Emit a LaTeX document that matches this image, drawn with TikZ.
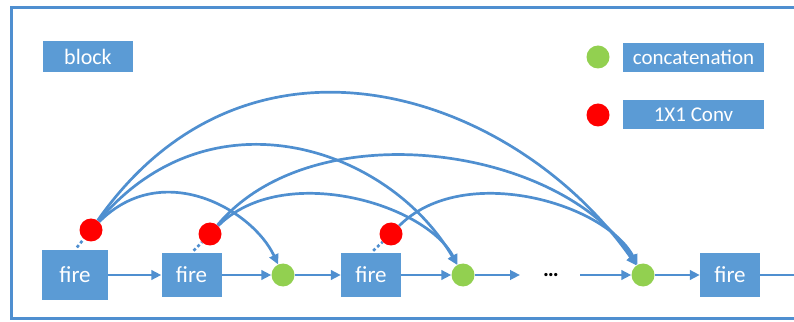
\documentclass[tikz,border=0pt]{standalone}
\usepackage{fontspec}
\setmainfont{Carlito}
\usetikzlibrary{arrows.meta}
\definecolor{boxblue}{RGB}{91,155,213}
\definecolor{lineblue}{RGB}{79,143,208}
\definecolor{catgreen}{RGB}{146,208,80}

\begin{document}
\begin{tikzpicture}[x=1pt,y=1pt,
  box/.style={fill=boxblue, text=white, inner sep=0pt, font=\fontsize{21}{24}\selectfont},
  fire/.style={box, minimum width=60pt, minimum height=44pt, font=\fontsize{23}{26}\selectfont},
  dot/.style={circle, inner sep=0pt, minimum size=23pt},
  wire/.style={lineblue, line width=2.7pt},
  link/.style={wire, -{Triangle[length=10pt,width=9.5pt]}},
  stub/.style={wire, dash pattern=on 3pt off 2.5pt, shorten <=3pt}]
\def\row{46}
\useasboundingbox (0,0) rectangle (794,321);
\draw[lineblue, line width=3pt] (11,3) rectangle (820,313);

\node[box, minimum width=90pt, minimum height=31pt, font=\fontsize{22}{24}\selectfont] (BLK) at (88,264.5) {block};
\node[dot, fill=catgreen] (LG) at (598,264) {};
\node[box, minimum width=141pt, minimum height=29pt] (LC) at (693.5,263.5) {concatenation};
\node[dot, fill=red] (LR) at (598,206) {};
\node[box, minimum width=141pt, minimum height=29pt] (LV) at (693.5,206.5) {1X1 Conv};

\node[fire, minimum width=66pt, minimum height=50pt] (F1) at (75,\row) {fire};
\node[fire] (F2) at (191.5,\row) {fire};
\node[fire] (F3) at (371,\row) {fire};
\node[fire] (F4) at (730,\row) {fire};

\node[dot, fill=catgreen] (G1) at (283,\row) {};
\node[dot, fill=catgreen] (G2) at (463,\row) {};
\node[dot, fill=catgreen] (G3) at (643,\row) {};

\node[dot, fill=red] (R1) at (91,91) {};
\node[dot, fill=red] (R2) at (210,87) {};
\node[dot, fill=red] (R3) at (391,87) {};

\node (DOTS) at (551,\row) {\fontsize{22}{24}\selectfont\bfseries\dots};
\coordinate (A) at (520,\row);
\coordinate (B) at (580,\row);
\coordinate (E) at (800,\row);

\draw[link] (F1) -- (F2);
\draw[link] (F2) -- (G1);
\draw[link] (G1) -- (F3);
\draw[link] (F3) -- (G2);
\draw[link] (G2) -- (A);
\draw[link] (B) -- (G3);
\draw[link] (G3) -- (F4);
\draw[wire] (F4) -- (E);

\draw[stub] (F1.north) -- (R1);
\draw[stub] (F2.north) -- (R2);
\draw[stub] (F3.north) -- (R3);

\draw[link] (R1) to[out=45, in=115, out distance=90pt, in distance=60pt] (G1);
\draw[link] (R1) to[out=50, in=120, out distance=175pt, in distance=135pt] (G2);
\draw[link] (R1) to[out=55, in=125, out distance=265pt, in distance=210pt] (G3);
\draw[link] (R2) to[out=45, in=118, out distance=90pt, in distance=70pt] (G2);
\draw[link] (R2) to[out=50, in=122, out distance=150pt, in distance=140pt] (G3);
\draw[link] (R3) to[out=45, in=118, out distance=90pt, in distance=70pt] (G3);
\end{tikzpicture}
\end{document}
